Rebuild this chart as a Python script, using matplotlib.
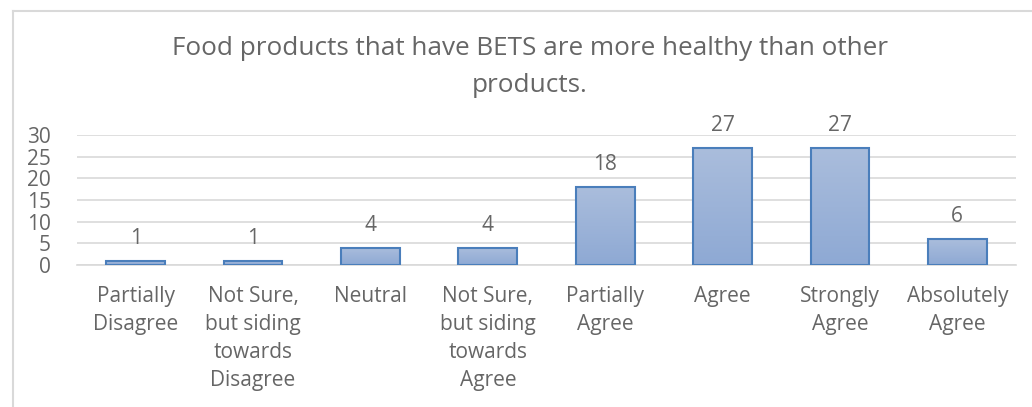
import numpy as np
import matplotlib.pyplot as plt
from matplotlib.colors import LinearSegmentedColormap

categories = ['Partially\nDisagree', 'Not Sure,\nbut siding\ntowards\nDisagree', 'Neutral',
              'Not Sure,\nbut siding\ntowards\nAgree', 'Partially\nAgree', 'Agree',
              'Strongly\nAgree', 'Absolutely\nAgree']
values = [1, 1, 4, 4, 18, 27, 27, 6]
title_lines = ['Food products that have BETS are more healthy than other', 'products.']

plt.rcParams['font.family'] = ['Open Sans', 'DejaVu Sans']
txt = '#666666'
grid = '#d9d9d9'

fig = plt.figure(figsize=(10.32, 4.07), dpi=100)
ax = fig.add_axes([77/1032, 142/407, 939/1032, 130/407])

# chart frame
fig.add_artist(plt.Line2D([13/1032, 13/1032], [0, 1 - 11/407], color=grid, lw=1.5, transform=fig.transFigure))
fig.add_artist(plt.Line2D([13/1032, 1], [1 - 11/407, 1 - 11/407], color=grid, lw=1.5, transform=fig.transFigure))

x = np.arange(len(values))
bars = ax.bar(x, values, width=0.5, color='none', edgecolor='#4a7ebb', linewidth=1.5, zorder=3)
cmap = LinearSegmentedColormap.from_list('g', ['#8ea9d4', '#aabddc'])
grad = np.linspace(0, 1, 256).reshape(-1, 1)
for b in bars:
    x0, y0 = b.get_x(), b.get_y()
    im = ax.imshow(grad, cmap=cmap, aspect='auto', origin='lower',
                   extent=[x0, x0 + b.get_width(), y0, y0 + b.get_height()], zorder=2)
    im.set_clip_path(b)
    ax.annotate(str(b.get_height()), (x0 + b.get_width() / 2, b.get_height()),
                xytext=(0, 12), textcoords='offset points', ha='center', va='baseline',
                fontsize=15, color=txt)

ax.set_xlim(-0.5, len(values) - 0.5)
ax.set_ylim(0, 30)
ax.set_yticks(range(0, 31, 5))
ax.yaxis.grid(True, color=grid, lw=1.2, zorder=0)
ax.set_axisbelow(True)
for s in ['top', 'right', 'left']:
    ax.spines[s].set_visible(False)
ax.spines['bottom'].set_color(grid)
ax.spines['bottom'].set_linewidth(1.2)
ax.set_xticks(x)
ax.set_xticklabels(categories, fontsize=15, color=txt, linespacing=1.45)
ax.tick_params(axis='both', length=0, labelcolor=txt, labelsize=15)
ax.tick_params(axis='x', pad=15)
ax.tick_params(axis='y', pad=19)
for lab in ax.get_yticklabels():
    lab.set_horizontalalignment('right')

fig.text(530/1032, 1 - 55/407, title_lines[0], ha='center', va='baseline', fontsize=18.8, color=txt)
fig.text(530/1032, 1 - 92/407, title_lines[1], ha='center', va='baseline', fontsize=18.8, color=txt)

fig.savefig('out.png', dpi=100)
